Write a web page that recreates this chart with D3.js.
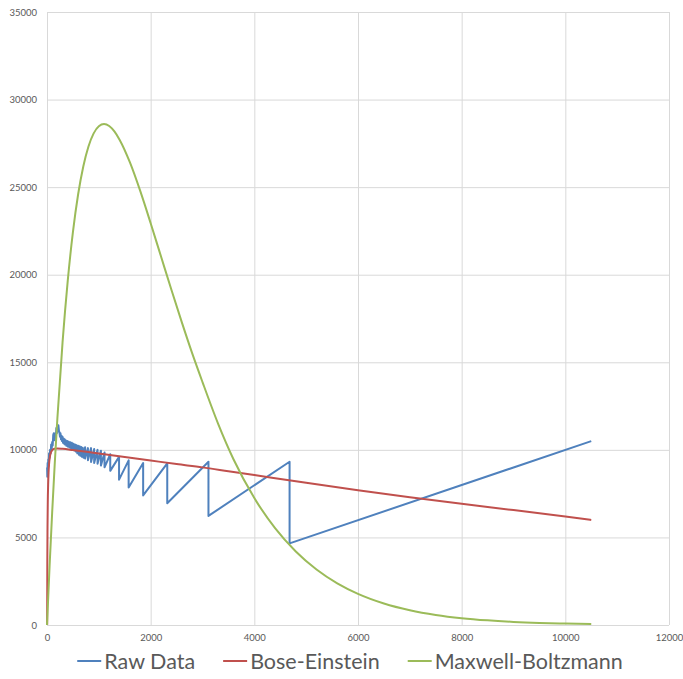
<!DOCTYPE html>
<html>
<head>
<meta charset="utf-8">
<script src="https://cdn.jsdelivr.net/npm/d3@7"></script>
<style>
  html, body { margin: 0; padding: 0; background: #fff; }
  svg { display: block; }
  .tick text { font-family: Lato, "Open Sans", sans-serif; font-size: 9.5px; fill: #595959; }
  .legend text { font-family: Lato, "Open Sans", sans-serif; font-size: 21.5px; fill: #595959; }
</style>
</head>
<body>
<svg id="chart" width="683" height="679"></svg>
<script>
// Axis ticks
const xTicks = [0, 2000, 4000, 6000, 8000, 10000, 12000];
const yTicks = [0, 5000, 10000, 15000, 20000, 25000, 30000, 35000];

// Series names
const seriesNames = ["Raw Data", "Bose-Einstein", "Maxwell-Boltzmann"];
const seriesColors = ["#4f81bd", "#c0504d", "#9bbb59"];

// Raw Data: [x, count]
const rawData = [
  [2, 9000], [6, 8470], [12, 9250], [18, 8750], [25, 9450], [32, 9100], [40, 9800],
  [50, 9550], [60, 10000], [70, 9800], [80, 10300], [90, 10000], [100, 10450],
  [110, 10250], [120, 10850], [130, 10950], [140, 10650], [150, 10550], [160, 10950],
  [170, 10700], [180, 11250], [190, 10950], [200, 11300], [210, 11050], [220, 11400],
  [230, 11100], [240, 11000], [250, 10750], [260, 10950], [270, 10600], [280, 10800],
  [290, 10500], [300, 10750], [310, 10400], [320, 10650], [330, 10350], [340, 10600],
  [350, 10300], [360, 10550], [375, 10230], [390, 10500], [405, 10180], [420, 10470],
  [435, 10130], [450, 10430], [465, 10080], [480, 10400], [495, 10030], [510, 10350],
  [525, 9970], [540, 10310], [555, 9900], [570, 10270], [585, 9800], [600, 10230],
  [615, 9720], [630, 10200], [645, 9660], [660, 10160], [675, 9600], [690, 10120],
  [705, 9550],
  [735, 10150], [735, 9500],
  [790, 10100], [790, 9400],
  [850, 10100], [850, 9300],
  [910, 10050], [910, 9250],
  [975, 10000], [975, 9200],
  [1040, 9950], [1040, 9100],
  [1110, 9850], [1110, 9000],
  [1220, 9750], [1220, 8800],
  [1390, 9600], [1390, 8300],
  [1575, 9400], [1575, 7850],
  [1855, 9250], [1855, 7400],
  [2320, 9230], [2320, 6950],
  [3115, 9320], [3115, 6230],
  [4680, 9320], [4680, 4660],
  [10500, 10500]
];

// Bose-Einstein fit: [x, value]
const boseEinstein = [
  [3, 0], [6, 3500], [10, 5600], [15, 7000], [22, 8000], [30, 8700], [40, 9200],
  [55, 9600], [75, 9850], [100, 9980], [140, 10060], [200, 10080], [300, 10060],
  [500, 9990], [1000, 9790], [1500, 9590], [2000, 9390], [2500, 9190], [3000, 9000],
  [3500, 8780], [4000, 8560], [5000, 8120], [6000, 7700], [7000, 7300], [8000, 6920],
  [9000, 6560], [10000, 6190], [10500, 6000]
];

// Maxwell-Boltzmann fit: [x, value]
const maxwellBoltzmann = [
  [0, 0], [50, 3380], [100, 6450], [150, 9250], [200, 11790], [300, 16140],
  [400, 19650], [500, 22430], [600, 24580], [700, 26180], [800, 27320], [900, 28070],
  [1000, 28480], [1100, 28600], [1200, 28490], [1300, 28180], [1400, 27710],
  [1600, 26410], [1800, 24770], [2000, 22940], [2200, 21040], [2400, 19140],
  [2600, 17290], [2800, 15520], [3000, 13870], [3300, 11500], [3600, 9450],
  [4000, 7250], [4400, 5530], [4800, 4200], [5200, 3170], [5600, 2380], [6000, 1780],
  [6500, 1230], [7000, 845], [7500, 575], [8000, 390], [8500, 265], [9000, 178],
  [9500, 119], [10000, 80], [10500, 53]
];

const svg = d3.select("#chart");
const plot = { left: 47, right: 669, top: 12, bottom: 625 };

const x = d3.scaleLinear().domain([0, 12000]).range([plot.left, plot.right]);
const y = d3.scaleLinear().domain([0, 35000]).range([plot.bottom, plot.top]);

// Vertical gridlines + x labels
const xAxis = svg.append("g")
  .attr("transform", `translate(0,${plot.bottom})`)
  .call(d3.axisBottom(x).tickValues(xTicks).tickFormat(d3.format("d"))
    .tickSizeInner(-(plot.bottom - plot.top)).tickSizeOuter(0).tickPadding(9));
xAxis.select(".domain").remove();
xAxis.selectAll(".tick line").attr("stroke", "#d9d9d9").attr("stroke-width", 1);

// Horizontal gridlines + y labels
const yAxis = svg.append("g")
  .attr("transform", `translate(${plot.left},0)`)
  .call(d3.axisLeft(y).tickValues(yTicks).tickFormat(d3.format("d"))
    .tickSizeInner(-(plot.right - plot.left)).tickSizeOuter(0).tickPadding(10));
yAxis.select(".domain").remove();
yAxis.selectAll(".tick line").attr("stroke", "#d9d9d9").attr("stroke-width", 1);

// Series lines
const straight = d3.line().x(d => x(d[0])).y(d => y(d[1]));
const smooth = d3.line().x(d => x(d[0])).y(d => y(d[1])).curve(d3.curveMonotoneX);

const series = [
  { data: rawData, gen: straight },
  { data: boseEinstein, gen: smooth },
  { data: maxwellBoltzmann, gen: smooth }
];

series.forEach((s, i) => {
  svg.append("path")
    .datum(s.data)
    .attr("fill", "none")
    .attr("stroke", seriesColors[i])
    .attr("stroke-width", 2)
    .attr("stroke-linejoin", "round")
    .attr("d", s.gen);
});

// Legend, centred under the plot
const legend = svg.append("g").attr("class", "legend");
const swatch = 24, swGap = 3, itemGap = 28, legendY = 661;
const items = seriesNames.map((name, i) => {
  const g = legend.append("g");
  g.append("line").attr("x1", 0).attr("x2", swatch).attr("y1", 0).attr("y2", 0)
    .attr("stroke", seriesColors[i]).attr("stroke-width", 2);
  const t = g.append("text").attr("x", swatch + swGap).attr("y", 7.5).text(name);
  return { g, w: swatch + swGap + t.node().getComputedTextLength() };
});
const total = d3.sum(items, d => d.w) + itemGap * (items.length - 1);
let cx = 350 - total / 2;
items.forEach(it => {
  it.g.attr("transform", `translate(${cx},${legendY})`);
  cx += it.w + itemGap;
});
</script>
</body>
</html>
